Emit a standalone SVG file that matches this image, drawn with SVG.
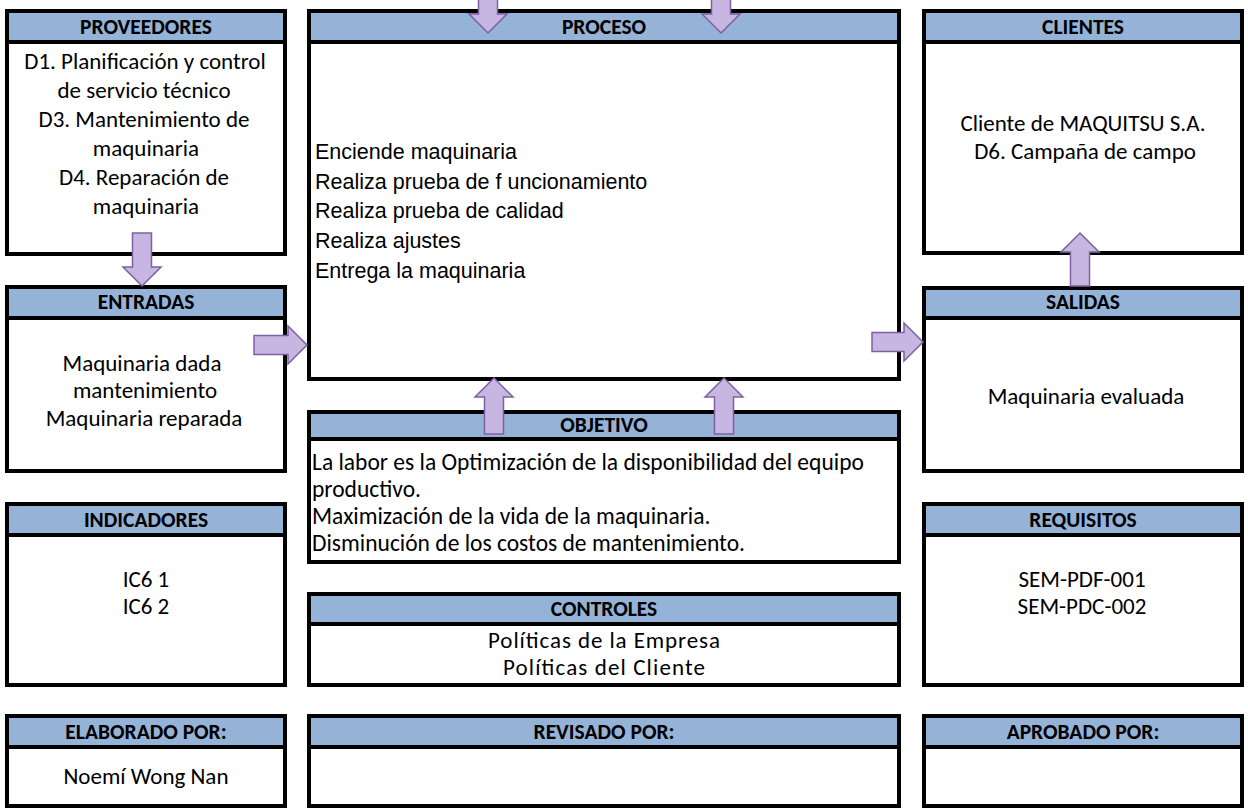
<svg xmlns="http://www.w3.org/2000/svg" width="1248" height="809" viewBox="0 0 1248 809">
<style>
.body{fill:#ffffff;stroke:none}
.hdr{fill:#95B3D7;stroke:none}
.frame{fill:none;stroke:#000000;stroke-width:4}
.sep{stroke:#000000;stroke-width:4}
.ht{font-family:Carlito,Calibri,Lato,"Liberation Sans",sans-serif;font-weight:bold;font-size:21.5px;fill:#000;text-anchor:middle;dominant-baseline:central}
.t{font-family:Carlito,Calibri,Lato,"Liberation Sans",sans-serif;font-size:23px;fill:#000;text-anchor:middle;dominant-baseline:central}
.tl{font-family:Carlito,Calibri,Lato,"Liberation Sans",sans-serif;font-size:23.5px;fill:#000;text-anchor:start;dominant-baseline:central}
.ta{font-family:"Liberation Sans",Arial,sans-serif;font-size:21.5px;fill:#000;text-anchor:start;dominant-baseline:central}
.arrow{fill:#C8B6E2;stroke:#7E60A0;stroke-width:1.5;stroke-linejoin:miter}
</style>
<rect width="1248" height="809" fill="#ffffff"/>

<g id="proveedores">
<rect class="body" x="7" y="11" width="278" height="243"/>
<rect class="hdr" x="7" y="11" width="278" height="31"/>
<line class="sep" x1="7" y1="42" x2="285" y2="42"/>
<rect class="frame" x="7" y="11" width="278" height="243"/>
<text class="ht" x="146" y="27">PROVEEDORES</text>
<text class="t" x="145" y="61">D1. Planificación y control</text>
<text class="t" x="144" y="90">de servicio técnico</text>
<text class="t" x="144" y="119">D3. Mantenimiento de</text>
<text class="t" x="146" y="148">maquinaria</text>
<text class="t" x="144" y="177">D4. Reparación de</text>
<text class="t" x="146" y="206">maquinaria</text>
</g>

<g id="proceso">
<rect class="body" x="309" y="11" width="590" height="368"/>
<rect class="hdr" x="309" y="11" width="590" height="31"/>
<line class="sep" x1="309" y1="42" x2="899" y2="42"/>
<rect class="frame" x="309" y="11" width="590" height="368"/>
<text class="ht" x="604" y="27">PROCESO</text>
<text class="ta" x="315" y="152">Enciende maquinaria</text>
<text class="ta" x="315" y="182">Realiza prueba de f uncionamiento</text>
<text class="ta" x="315" y="211">Realiza prueba de calidad</text>
<text class="ta" x="315" y="241">Realiza ajustes</text>
<text class="ta" x="315" y="271">Entrega la maquinaria</text>
</g>

<g id="clientes">
<rect class="body" x="924" y="11" width="318" height="242"/>
<rect class="hdr" x="924" y="11" width="318" height="31"/>
<line class="sep" x1="924" y1="42" x2="1242" y2="42"/>
<rect class="frame" x="924" y="11" width="318" height="242"/>
<text class="ht" x="1083" y="27">CLIENTES</text>
<text class="t" x="1083" y="123">Cliente de MAQUITSU S.A.</text>
<text class="t" x="1085" y="151">D6. Campaña de campo</text>
</g>

<g id="entradas">
<rect class="body" x="7" y="287" width="278" height="184"/>
<rect class="hdr" x="7" y="287" width="278" height="31"/>
<line class="sep" x1="7" y1="318" x2="285" y2="318"/>
<rect class="frame" x="7" y="287" width="278" height="184"/>
<text class="ht" x="146" y="302">ENTRADAS</text>
<text class="t" x="142" y="363">Maquinaria dada</text>
<text class="t" x="145" y="390">mantenimiento</text>
<text class="t" x="144" y="418">Maquinaria reparada</text>
</g>

<g id="salidas">
<rect class="body" x="924" y="288" width="318" height="183"/>
<rect class="hdr" x="924" y="288" width="318" height="30"/>
<line class="sep" x1="924" y1="318" x2="1242" y2="318"/>
<rect class="frame" x="924" y="288" width="318" height="183"/>
<text class="ht" x="1083" y="302">SALIDAS</text>
<text class="t" x="1086" y="396">Maquinaria evaluada</text>
</g>

<g id="objetivo">
<rect class="body" x="309" y="412" width="590" height="150"/>
<rect class="hdr" x="309" y="412" width="590" height="27"/>
<line class="sep" x1="309" y1="439" x2="899" y2="439"/>
<rect class="frame" x="309" y="412" width="590" height="150"/>
<text class="ht" x="604" y="425">OBJETIVO</text>
<text class="tl" x="312" y="462">La labor es la Optimización de la disponibilidad del equipo</text>
<text class="tl" x="312" y="489">productivo.</text>
<text class="tl" x="312" y="516">Maximización de la vida de la maquinaria.</text>
<text class="tl" x="312" y="543">Disminución de los costos de mantenimiento.</text>
</g>

<g id="indicadores">
<rect class="body" x="7" y="504" width="278" height="181"/>
<rect class="hdr" x="7" y="504" width="278" height="31"/>
<line class="sep" x1="7" y1="535" x2="285" y2="535"/>
<rect class="frame" x="7" y="504" width="278" height="181"/>
<text class="ht" x="146" y="520">INDICADORES</text>
<text class="t" x="146" y="579">IC6 1</text>
<text class="t" x="146" y="606">IC6 2</text>
</g>

<g id="requisitos">
<rect class="body" x="924" y="504" width="318" height="181"/>
<rect class="hdr" x="924" y="504" width="318" height="31"/>
<line class="sep" x1="924" y1="535" x2="1242" y2="535"/>
<rect class="frame" x="924" y="504" width="318" height="181"/>
<text class="ht" x="1083" y="520">REQUISITOS</text>
<text class="t" x="1082" y="579">SEM-PDF-001</text>
<text class="t" x="1082" y="606">SEM-PDC-002</text>
</g>

<g id="controles">
<rect class="body" x="309" y="594" width="590" height="91"/>
<rect class="hdr" x="309" y="594" width="590" height="30"/>
<line class="sep" x1="309" y1="624" x2="899" y2="624"/>
<rect class="frame" x="309" y="594" width="590" height="91"/>
<text class="ht" x="604" y="609">CONTROLES</text>
<text class="t" x="604" y="640" textLength="232" lengthAdjust="spacing">Políticas de la Empresa</text>
<text class="t" x="604" y="667" textLength="202" lengthAdjust="spacing">Políticas del Cliente</text>
</g>

<g id="elaborado">
<rect class="body" x="7" y="716" width="278" height="90"/>
<rect class="hdr" x="7" y="716" width="278" height="31"/>
<line class="sep" x1="7" y1="747" x2="285" y2="747"/>
<rect class="frame" x="7" y="716" width="278" height="90"/>
<text class="ht" x="146" y="732">ELABORADO POR:</text>
<text class="t" x="146" y="776">Noemí Wong Nan</text>
</g>

<g id="revisado">
<rect class="body" x="309" y="716" width="590" height="90"/>
<rect class="hdr" x="309" y="716" width="590" height="31"/>
<line class="sep" x1="309" y1="747" x2="899" y2="747"/>
<rect class="frame" x="309" y="716" width="590" height="90"/>
<text class="ht" x="604" y="732">REVISADO POR:</text>
</g>

<g id="aprobado">
<rect class="body" x="924" y="716" width="318" height="90"/>
<rect class="hdr" x="924" y="716" width="318" height="31"/>
<line class="sep" x1="924" y1="747" x2="1242" y2="747"/>
<rect class="frame" x="924" y="716" width="318" height="90"/>
<text class="ht" x="1083" y="732">APROBADO POR:</text>
</g>

<g id="connectors">
<polygon class="arrow" points="478.5,-5 497.5,-5 497.5,14 507,14 488,33 469,14 478.5,14"/>
<polygon class="arrow" points="711.5,-5 730.5,-5 730.5,14 740,14 721,33 702,14 711.5,14"/>
<polygon class="arrow" points="132.5,233 151.5,233 151.5,267 161,267 142,286 123,267 132.5,267"/>
<polygon class="arrow" points="254,335.5 288,335.5 288,326 307,345 288,364 288,354.5 254,354.5"/>
<polygon class="arrow" points="872,332.5 904,332.5 904,323 923,342 904,361 904,351.5 872,351.5"/>
<polygon class="arrow" points="1070.5,286 1089.5,286 1089.5,252 1099,252 1080,233 1061,252 1070.5,252"/>
<polygon class="arrow" points="484.5,434 503.5,434 503.5,397 513,397 494,378 475,397 484.5,397"/>
<polygon class="arrow" points="714.5,434 733.5,434 733.5,397 743,397 724,378 705,397 714.5,397"/>
</g>
</svg>
